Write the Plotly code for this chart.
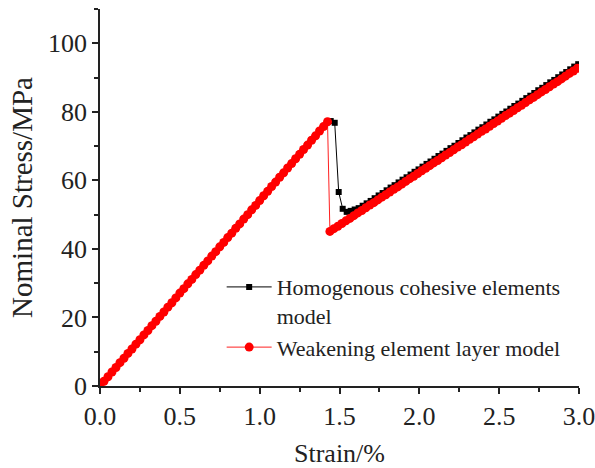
import plotly.graph_objects as go

# ---- data ----
strain_pre = [0.0, 0.025, 0.05, 0.075, 0.1, 0.125, 0.15, 0.175, 0.2, 0.225, 0.25, 0.275,
              0.3, 0.325, 0.35, 0.375, 0.4, 0.425, 0.45, 0.475, 0.5, 0.525, 0.55, 0.575,
              0.6, 0.625, 0.65, 0.675, 0.7, 0.725, 0.75, 0.775, 0.8, 0.825, 0.85, 0.875,
              0.9, 0.925, 0.95, 0.975, 1.0, 1.025, 1.05, 1.075, 1.1, 1.125, 1.15, 1.175,
              1.2, 1.225, 1.25, 1.275, 1.3, 1.325, 1.35, 1.375, 1.4, 1.425]
stress_pre = [0.0, 1.4, 2.7, 4.1, 5.4, 6.8, 8.1, 9.5, 10.8, 12.2, 13.5, 14.9,
              16.2, 17.6, 18.9, 20.3, 21.6, 23.0, 24.3, 25.7, 27.1, 28.4, 29.8, 31.1,
              32.5, 33.8, 35.2, 36.5, 37.9, 39.2, 40.6, 41.9, 43.3, 44.6, 46.0, 47.3,
              48.7, 50.0, 51.4, 52.7, 54.1, 55.5, 56.8, 58.2, 59.5, 60.9, 62.2, 63.6,
              64.9, 66.3, 67.6, 69.0, 70.3, 71.7, 73.0, 74.4, 75.7, 77.1]

# Homogenous cohesive elements model: drop region + reloading
hom_strain_post = [1.445, 1.47, 1.495, 1.52,
                   1.545, 1.57, 1.595, 1.62, 1.645, 1.67, 1.695, 1.72, 1.745, 1.77, 1.795,
                   1.82, 1.845, 1.87, 1.895, 1.92, 1.945, 1.97, 1.995, 2.02, 2.045, 2.07,
                   2.095, 2.12, 2.145, 2.17, 2.195, 2.22, 2.245, 2.27, 2.295, 2.32, 2.345,
                   2.37, 2.395, 2.42, 2.445, 2.47, 2.495, 2.52, 2.545, 2.57, 2.595, 2.62,
                   2.645, 2.67, 2.695, 2.72, 2.745, 2.77, 2.795, 2.82, 2.845, 2.87, 2.895,
                   2.92, 2.945, 2.97, 2.995]
hom_stress_post = [77.3, 76.8, 56.6, 51.7,
                   50.8, 51.1, 51.5, 51.9, 52.6, 53.3, 54.0, 54.8, 55.6, 56.3, 57.1,
                   57.9, 58.6, 59.4, 60.2, 60.9, 61.7, 62.5, 63.2, 64.0, 64.8, 65.5,
                   66.3, 67.1, 67.8, 68.6, 69.4, 70.1, 70.9, 71.7, 72.5, 73.2, 74.0,
                   74.8, 75.5, 76.3, 77.1, 77.8, 78.6, 79.4, 80.1, 80.9, 81.7, 82.4,
                   83.2, 84.0, 84.7, 85.5, 86.3, 87.0, 87.8, 88.6, 89.3, 90.1, 90.9,
                   91.6, 92.4, 93.2, 93.9]

# Weakening element layer model: drop + reloading
weak_strain_post = [1.44, 1.465, 1.49, 1.515, 1.54, 1.565, 1.59, 1.615, 1.64, 1.665, 1.69,
                    1.715, 1.74, 1.765, 1.79, 1.815, 1.84, 1.865, 1.89, 1.915, 1.94, 1.965,
                    1.99, 2.015, 2.04, 2.065, 2.09, 2.115, 2.14, 2.165, 2.19, 2.215, 2.24,
                    2.265, 2.29, 2.315, 2.34, 2.365, 2.39, 2.415, 2.44, 2.465, 2.49, 2.515,
                    2.54, 2.565, 2.59, 2.615, 2.64, 2.665, 2.69, 2.715, 2.74, 2.765, 2.79,
                    2.815, 2.84, 2.865, 2.89, 2.915, 2.94, 2.965, 2.99]
weak_stress_post = [45.1, 45.9, 46.6, 47.4, 48.2, 48.9, 49.7, 50.5, 51.2, 52.0, 52.8,
                    53.5, 54.3, 55.1, 55.8, 56.6, 57.4, 58.1, 58.9, 59.7, 60.5, 61.2,
                    62.0, 62.8, 63.5, 64.3, 65.1, 65.8, 66.6, 67.4, 68.1, 68.9, 69.7,
                    70.4, 71.2, 72.0, 72.7, 73.5, 74.3, 75.0, 75.8, 76.6, 77.3, 78.1,
                    78.9, 79.6, 80.4, 81.2, 81.9, 82.7, 83.5, 84.2, 85.0, 85.8, 86.5,
                    87.3, 88.1, 88.8, 89.6, 90.4, 91.2, 91.9, 92.7]

x_ticks = [0.0, 0.5, 1.0, 1.5, 2.0, 2.5, 3.0]
y_ticks = [0, 20, 40, 60, 80, 100]

FONT = "Liberation Serif, Times New Roman, serif"

fig = go.Figure()
fig.add_trace(go.Scatter(
    x=strain_pre + hom_strain_post, y=stress_pre + hom_stress_post,
    mode="lines+markers", name="Homogenous cohesive elements<br>model",
    line=dict(color="black", width=1),
    marker=dict(symbol="square", size=6, color="black"),
))
fig.add_trace(go.Scatter(
    x=strain_pre + weak_strain_post, y=stress_pre + weak_stress_post,
    mode="lines+markers", name="Weakening element layer model",
    line=dict(color="#ff2020", width=1),
    marker=dict(symbol="circle", size=9, color="#ff0000"),
))

axis_common = dict(
    showline=True, linecolor="#222", linewidth=1.5, mirror=False,
    ticks="outside", ticklen=6, tickwidth=1.5, tickcolor="#222",
    showgrid=False, zeroline=False,
    tickfont=dict(family=FONT, size=26, color="#222"),
)

fig.update_xaxes(
    range=[0, 3.0], tickvals=x_ticks, ticktext=[f"{v:.1f}" for v in x_ticks],
    ticklabeloverflow="allow",
    minor=dict(ticks="outside", ticklen=4, tickwidth=1.5, tickcolor="#222", dtick=0.25, tick0=0),
    title=dict(text="Strain/%", font=dict(family=FONT, size=26, color="#222"), standoff=18),
    **axis_common,
)
fig.update_yaxes(
    range=[0, 110], tickvals=y_ticks,
    minor=dict(ticks="outside", ticklen=4, tickwidth=1.5, tickcolor="#222", dtick=10, tick0=0),
    title=dict(text="Nominal Stress/MPa", font=dict(family=FONT, size=29, color="#222"), standoff=7),
    **axis_common,
)

fig.update_layout(
    width=595, height=468,
    margin=dict(l=100, r=16, t=9, b=82, autoexpand=False),
    plot_bgcolor="white", paper_bgcolor="white",
    showlegend=True,
    legend=dict(
        x=0.254, y=0.318, xanchor="left", yanchor="top",
        bgcolor="rgba(0,0,0,0)", borderwidth=0,
        font=dict(family=FONT, size=22, color="#222"),
        valign="top", tracegroupgap=0, itemwidth=45,
    ),
)

fig.write_html("out.html")
